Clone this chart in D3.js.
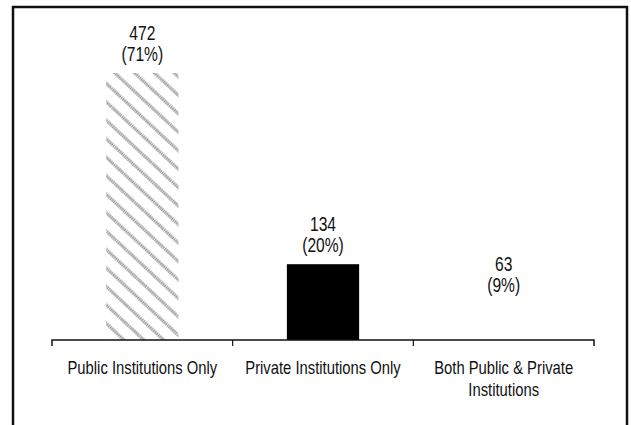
<!DOCTYPE html>
<html>
<head>
<meta charset="utf-8">
<script src="https://cdn.jsdelivr.net/npm/d3@7"></script>
<style>
  body { margin: 0; background: #fff; }
  svg { display: block; }
  text { font-family: "Liberation Sans", Arial, sans-serif; fill: #111; }
</style>
</head>
<body>
<div id="chart"></div>
<script>
// data
const categories = ["Public Institutions Only", "Private Institutions Only", "Both Public & Private Institutions"];
const categoryLines = [["Public Institutions Only"], ["Private Institutions Only"], ["Both Public & Private", "Institutions"]];
const counts = [472, 134, 63];
const percents = ["71%", "20%", "9%"];
const fills = ["url(#hatch)", "#000", "url(#faint)"];

const width = 631, height = 425;
const margin = {top: 73, right: 37, bottom: 85, left: 52};
const squeeze = 0.8; // fake a condensed face, no narrow font installed

const svg = d3.select("#chart").append("svg")
  .attr("width", width)
  .attr("height", height);

const defs = svg.append("defs");

// diagonal gray hatching for the first bar, running top-left to bottom-right
const hatch = defs.append("pattern")
  .attr("id", "hatch")
  .attr("patternUnits", "userSpaceOnUse")
  .attr("width", 13.5)
  .attr("height", 13.5)
  .attr("patternTransform", "rotate(43)");
hatch.append("rect").attr("width", 13.5).attr("height", 13.5).attr("fill", "#fff");
hatch.append("line")
  .attr("x1", 0).attr("y1", 2).attr("x2", 13.5).attr("y2", 2)
  .attr("stroke", "#8e8e8e")
  .attr("stroke-width", 3)
  .attr("stroke-dasharray", "1.4 0.8");

// nearly blank fill for the third bar (lost in the print)
const faint = defs.append("pattern")
  .attr("id", "faint")
  .attr("patternUnits", "userSpaceOnUse")
  .attr("width", 17)
  .attr("height", 13);
faint.append("rect").attr("width", 17).attr("height", 13).attr("fill", "#fff");
faint.append("rect").attr("x", 6).attr("y", 5).attr("width", 1).attr("height", 1).attr("fill", "#ececec");

// outer frame
svg.append("rect")
  .attr("x", 13)
  .attr("y", 7)
  .attr("width", 614)
  .attr("height", 500)
  .attr("fill", "none")
  .attr("stroke", "#111")
  .attr("stroke-width", 2.5);

const x = d3.scaleBand()
  .domain(categories)
  .range([margin.left, width - margin.right])
  .paddingInner(0)
  .paddingOuter(0);

const baseY = height - margin.bottom;
const y = d3.scaleLinear()
  .domain([0, 472])
  .range([baseY, margin.top]);

const barW = x.bandwidth() * 0.4;
const mid = d => x(d) + x.bandwidth() / 2;

svg.append("g")
  .selectAll("rect")
  .data(categories)
  .join("rect")
  .attr("x", d => x(d) + (x.bandwidth() - barW) / 2)
  .attr("y", (d, i) => y(counts[i]))
  .attr("width", barW)
  .attr("height", (d, i) => baseY - y(counts[i]))
  .attr("fill", (d, i) => fills[i]);

// value labels, two lines each
const labels = svg.append("g")
  .selectAll("text")
  .data(categories)
  .join("text")
  .attr("text-anchor", "middle")
  .attr("transform", (d, i) => `translate(${mid(d)},${y(counts[i])}) scale(${squeeze},1)`)
  .style("font-size", "19.5px");
labels.append("tspan")
  .attr("x", 0)
  .attr("y", -33)
  .text((d, i) => counts[i]);
labels.append("tspan")
  .attr("x", 0)
  .attr("y", -12)
  .text((d, i) => `(${percents[i]})`);

// baseline axis, ticks sit on the band edges
const axis = d3.axisBottom(x).tickSize(0).tickFormat("");
const axisG = svg.append("g")
  .attr("transform", `translate(0,${baseY})`)
  .call(axis);
axisG.select(".domain")
  .attr("stroke", "#111")
  .attr("stroke-width", 1.5)
  .attr("d", `M${margin.left},6V0H${width - margin.right}V6`);

const edges = categories.map(d => x(d)).slice(1);
axisG.selectAll(".edge")
  .data(edges)
  .join("line")
  .attr("class", "edge")
  .attr("x1", d => d).attr("x2", d => d)
  .attr("y1", 0).attr("y2", 6)
  .attr("stroke", "#111")
  .attr("stroke-width", 1.2);

// category labels
const cat = svg.append("g")
  .selectAll("text")
  .data(categories)
  .join("text")
  .attr("text-anchor", "middle")
  .attr("transform", d => `translate(${mid(d)},${baseY}) scale(${squeeze},1)`)
  .style("font-size", "18.5px");
cat.selectAll("tspan")
  .data((d, i) => categoryLines[i])
  .join("tspan")
  .attr("x", 0)
  .attr("y", (t, j) => 34 + j * 22)
  .text(t => t);
</script>
</body>
</html>
